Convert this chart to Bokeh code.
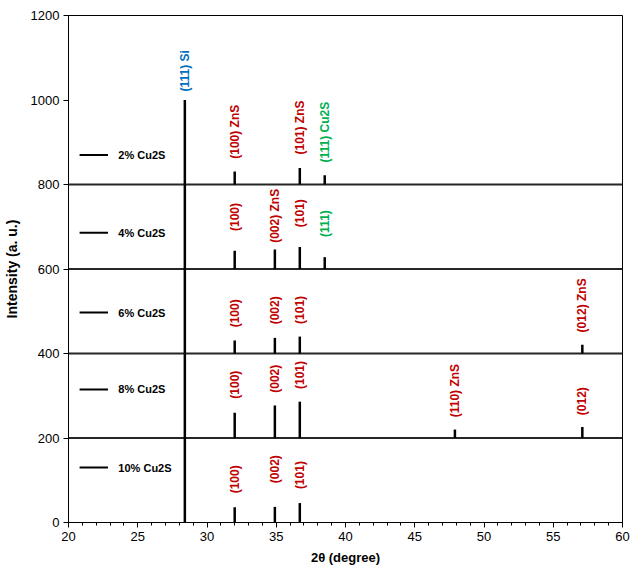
import numpy as np
from bokeh.plotting import figure
from bokeh.models import SingleIntervalTicker, ColumnDataSource, Range1d
from bokeh.core.properties import value
from bokeh.embed import file_html
from bokeh.resources import INLINE

# ---- data ----
samples = ["2% Cu2S", "4% Cu2S", "6% Cu2S", "8% Cu2S", "10% Cu2S"]
offsets = [800, 600, 400, 200, 0]
peak_2theta = [28.4, 32.0, 34.9, 36.7, 38.5, 47.9, 57.1]
int_2 = [200, 31, 0, 39, 22, 0, 0]
int_4 = [200, 43, 46, 52, 28, 0, 0]
int_6 = [200, 31, 37, 40, 0, 0, 21]
int_8 = [200, 60, 77, 86, 0, 20, 26]
int_10 = [200, 36, 37, 46, 0, 0, 0]
intensities = [int_2, int_4, int_6, int_8, int_10]

# peak annotations: text, 2theta, y, colour
RED = "#C00000"
BLUE = "#0070C0"
GREEN = "#00B050"
label_text = ["(100) ZnS", "(101) ZnS", "(111) Cu2S",
              "(100)", "(002) ZnS", "(101)", "(111)",
              "(100)", "(002)", "(101)", "(012) ZnS",
              "(100)", "(002)", "(101)", "(110) ZnS", "(012)",
              "(100)", "(002)", "(101)"]
label_x = [32.0, 36.7, 38.5,
           32.0, 34.9, 36.7, 38.5,
           32.0, 34.9, 36.7, 57.1,
           32.0, 34.9, 36.7, 47.9, 57.1,
           32.0, 34.9, 36.7]
label_y = [861, 871, 852,
           690, 662, 699, 676,
           462, 469, 470, 450,
           293, 307, 316, 249, 254,
           69, 93, 79]
label_color = [RED, RED, GREEN,
               RED, RED, RED, GREEN,
               RED, RED, RED, RED,
               RED, RED, RED, RED, RED,
               RED, RED, RED]
si_label = "(111) Si"
si_x = 28.4
si_y = 1020
legend_y = [870, 686, 497, 315, 130]

p = figure(width=628, height=566, output_backend="svg", toolbar_location=None,
           x_range=Range1d(20, 60), y_range=Range1d(0, 1200),
           min_border_left=65, min_border_right=9, min_border_top=15, min_border_bottom=44)
p.frame_width = 554
p.frame_height = 507
p.outline_line_color = "black"
p.outline_line_width = 1
p.xgrid.visible = False
p.ygrid.visible = False
p.background_fill_color = "white"
p.border_fill_color = "white"

# baselines and peaks
for off, ints in zip(offsets, intensities):
    if off > 0:
        p.segment(x0=[20], y0=[off], x1=[60], y1=[off], line_color="#262626", line_width=2)
    xs = [x for x, v in zip(peak_2theta, ints) if v > 0]
    tops = [off + v for v in ints if v > 0]
    p.vbar(x=xs, width=0.18, bottom=off, top=tops, fill_color="black", line_color=None)

# legend-like labels
for s, ly in zip(samples, legend_y):
    p.segment(x0=[20.8], y0=[ly], x1=[22.85], y1=[ly], line_color="black", line_width=2)
p.text(x=[23.6] * len(samples), y=legend_y, text=samples, text_font=value("Liberation Sans"),
       text_font_size="11px", text_font_style="bold", text_baseline="middle", text_align="left",
       text_color="black")

# peak labels
src = ColumnDataSource(dict(x=label_x, y=label_y, t=label_text, c=label_color))
p.text(x="x", y="y", text="t", text_color="c", source=src, angle=np.pi / 2,
       text_font=value("Liberation Sans"), text_font_size="12px", text_font_style="bold",
       text_baseline="middle", text_align="left")
p.text(x=[si_x], y=[si_y], text=[si_label], text_color=BLUE, angle=np.pi / 2,
       text_font=value("Liberation Sans"), text_font_size="12px", text_font_style="bold",
       text_baseline="middle", text_align="left")

# axes
p.xaxis.ticker = SingleIntervalTicker(interval=5, num_minor_ticks=5)
p.yaxis.ticker = SingleIntervalTicker(interval=200, num_minor_ticks=0)
for ax in (p.xaxis[0], p.yaxis[0]):
    ax.axis_line_color = "black"
    ax.major_tick_line_color = "black"
    ax.minor_tick_line_color = "black"
    ax.major_tick_out = 5
    ax.major_tick_in = 0
    ax.minor_tick_out = 3
    ax.minor_tick_in = 0
    ax.major_label_text_font = "Liberation Sans"
    ax.major_label_text_font_size = "13px"
    ax.major_label_text_color = "black"
    ax.axis_label_text_font = "Liberation Sans"
    ax.axis_label_text_font_size = "13px"
    ax.axis_label_text_font_style = "bold"
    ax.axis_label_text_color = "black"
p.yaxis.minor_tick_line_color = None
p.yaxis.axis_label_text_font_size = "14px"
p.xaxis.axis_label = "2θ (degree)"
p.yaxis.axis_label = "Intensity (a. u.)"
p.xaxis.major_label_standoff = 4
p.yaxis.major_label_standoff = 4
p.xaxis.axis_label_standoff = 6
p.yaxis.axis_label_standoff = 8

open("out.html", "w").write(file_html(p, INLINE))
